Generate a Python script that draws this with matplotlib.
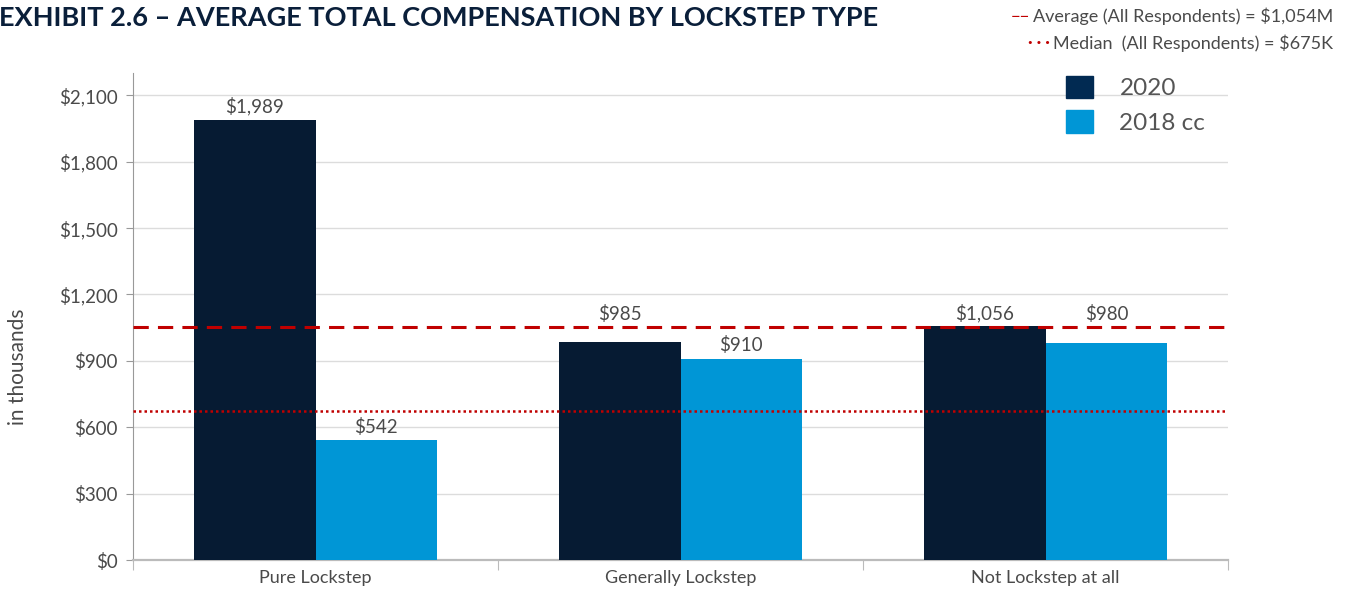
import matplotlib.pyplot as plt
from matplotlib.patches import Patch

plt.rcParams['font.family'] = ['Lato', 'DejaVu Sans']

# Data (in thousands)
categories = ['Pure Lockstep', 'Generally Lockstep', 'Not Lockstep at all']
comp_2020 = [1989, 985, 1056]
comp_2018 = [542, 910, 980]
avg_all = 1054
median_all = 675
yticks = [0, 300, 600, 900, 1200, 1500, 1800, 2100]

dark = '#061B33'
light = '#0096D6'
red = '#C00000'
grey_txt = '#4a4a4a'

fig = plt.figure(figsize=(13.52, 5.95), dpi=100)
ax = fig.add_axes([0.0984, 0.0588, 0.8099, 0.8182])

x = list(range(len(categories)))
w = 1 / 3
ax.bar([i - w / 2 for i in x], comp_2020, width=w, color=dark, zorder=3)
ax.bar([i + w / 2 for i in x], comp_2018, width=w, color=light, zorder=3)


def label_base(v):
    # lift labels that would sit on the average line above it
    if 0 < avg_all - v < 100:
        return avg_all
    return v


for i in x:
    for xpos, val in [(i - w / 2, comp_2020[i]), (i + w / 2, comp_2018[i])]:
        ax.annotate(f'${val:,}', (xpos, label_base(val)), xytext=(0, 3),
                    textcoords='offset points', ha='center', va='bottom',
                    fontsize=13.5, color=grey_txt, zorder=5)

# reference lines
ax.axhline(avg_all, color=red, lw=2.2, dashes=(5, 3), zorder=4)
ax.axhline(median_all, color=red, lw=1.8, dashes=(1, 1.2), zorder=4)

ax.set_xlim(-0.5, 2.5)
ax.set_ylim(0, 2200)
ax.set_yticks(yticks)
ax.set_yticklabels([f'${v:,}' for v in yticks])
ax.yaxis.grid(True, color='#dcdcdc', lw=1, zorder=0)

ax.set_xticks([-0.5, 0.5, 1.5, 2.5])
ax.set_xticklabels([])
ax.set_xticks(x, minor=True)
ax.set_xticklabels(categories, minor=True)
ax.tick_params(axis='x', which='major', length=7, color='#bbbbbb')
ax.tick_params(axis='x', which='minor', length=0, labelsize=13,
               labelcolor=grey_txt, pad=7)
ax.tick_params(axis='y', length=5, color='#999999', labelsize=13.5,
               labelcolor=grey_txt, pad=6)

for s in ['top', 'right']:
    ax.spines[s].set_visible(False)
ax.spines['left'].set_color('#999999')
ax.spines['bottom'].set_color('#bbbbbb')
ax.spines['bottom'].set_linewidth(1.6)

fig.text(0.0135, 0.383, 'in thousands', fontsize=15, color=grey_txt,
         rotation=90, ha='center', va='center')

# legend
handles = [Patch(color='#012A52'), Patch(color=light)]
leg = ax.legend(handles, ['2020', '2018 cc'], loc='upper left',
                bbox_to_anchor=(0.832, 1.04), frameon=False, fontsize=17.5,
                handlelength=1.1, handleheight=1.05, handletextpad=1.1,
                labelspacing=0.45, labelcolor='#555555')

# title
fig.text(-0.001, 0.97, 'EXHIBIT 2.6 – AVERAGE TOTAL COMPENSATION BY LOCKSTEP TYPE',
         fontsize=19.5, fontweight='bold', color='#0A1F3A', va='center', ha='left')

# reference line notes
t1 = fig.text(0.986, 0.972, 'Average (All Respondents) = $1,054M', fontsize=13,
              color=grey_txt, ha='right', va='center')
t2 = fig.text(0.986, 0.928, 'Median  (All Respondents) = $675K', fontsize=13,
              color=grey_txt, ha='right', va='center')
fig.canvas.draw()
r = fig.canvas.get_renderer()
for t, mark, fw in [(t1, '−−', 'normal'), (t2, '· · ·', 'bold')]:
    bb = t.get_window_extent(r)
    x0 = (bb.x0 - 3) / fig.bbox.width
    fig.text(x0, t.get_position()[1], mark, fontsize=12, color=red,
             ha='right', va='center', fontweight=fw)

fig.savefig('out.png', dpi=100)
